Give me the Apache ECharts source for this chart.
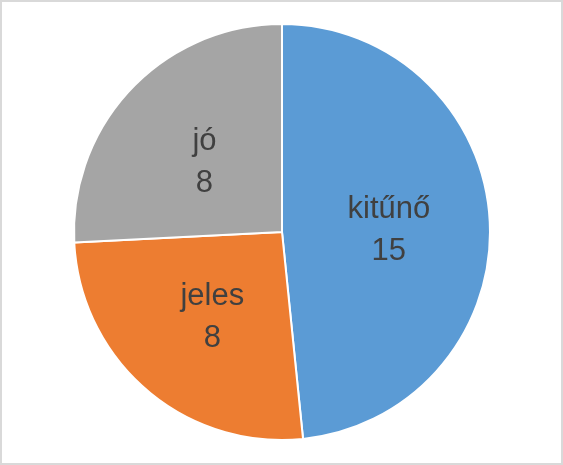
<!DOCTYPE html>
<html><head><meta charset="utf-8">
<script src="https://cdn.jsdelivr.net/npm/echarts@6/dist/echarts.min.js"></script>
<style>html,body{margin:0;padding:0;background:#fff}#c{width:563px;height:465px;box-sizing:border-box;border:2px solid #d9d9d9}</style>
</head><body><div id="c"></div>
<script>
const categories = ['kitűnő', 'jeles', 'jó'];
const values = [15, 8, 8];
const colors = ['#5B9BD5', '#ED7D31', '#A5A5A5'];
const chart = echarts.init(document.getElementById('c'), null, {renderer: 'canvas'});
chart.setOption({
  animation: false,
  series: [{
    type: 'pie',
    center: [280, 230],
    radius: [0, 208],
    startAngle: 90,
    clockwise: true,
    data: categories.map((n, i) => ({name: n, value: values[i], itemStyle: {color: colors[i]}})),
    itemStyle: {borderColor: '#fff', borderWidth: 2},
    label: {
      position: 'inside',
      formatter: '{b}\n{c}',
      color: '#404040',
      fontFamily: 'Liberation Sans',
      fontSize: 31,
      lineHeight: 42,
      offset: [0, 4]
    },
    labelLine: {show: false},
    emphasis: {disabled: true}
  }]
});
</script></body></html>
